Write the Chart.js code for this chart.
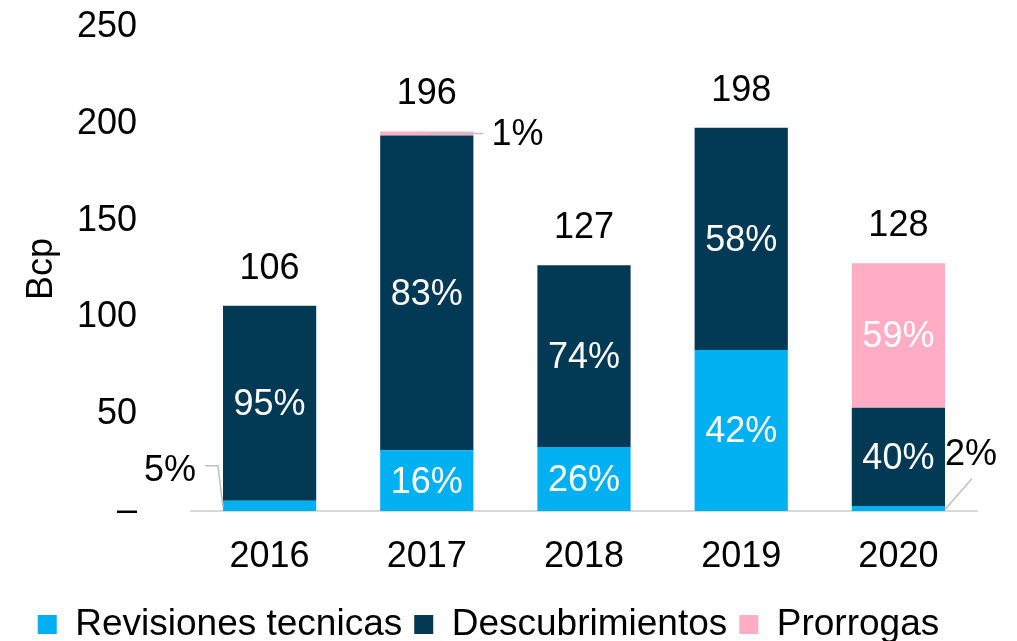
<!DOCTYPE html>
<html>
<head>
<meta charset="utf-8">
<script src="https://cdn.jsdelivr.net/npm/chart.js@4"></script>
<style>
  html, body { margin: 0; padding: 0; background: #fff; }
  #wrap { width: 1017px; height: 641px; }
</style>
</head>
<body>
<div id="wrap"><canvas id="myChart" width="1017" height="641"></canvas></div>
<script>
// datos (Bcp)
const years = ['2016', '2017', '2018', '2019', '2020'];
const revisiones = [5.3, 31.4, 33.0, 83.2, 2.6];
const descubrimientos = [100.7, 162.6, 94.0, 114.8, 50.7];
const prorrogas = [0, 2.0, 0, 0, 74.7];
const totals = [106, 196, 127, 198, 128];

const pctRevisiones = ['5%', '16%', '26%', '42%', '2%'];
const pctDescubrimientos = ['95%', '83%', '74%', '58%', '40%'];
const pctProrrogas = ['', '1%', '', '', '59%'];

const yTicks = [0, 50, 100, 150, 200, 250];

const FONT = "'Liberation Sans', Arial, sans-serif";

// etiquetas dentro de las barras, totales y las pequeñas con linea
const labelsPlugin = {
    id: 'labels',
    afterDatasetsDraw(chart) {
        const ctx = chart.ctx;
        const pcts = [pctRevisiones, pctDescubrimientos, pctProrrogas];
        ctx.save();
        ctx.font = '36px ' + FONT;
        ctx.textAlign = 'center';
        ctx.textBaseline = 'middle';

        chart.data.datasets.forEach(function (ds, i) {
            const meta = chart.getDatasetMeta(i);
            meta.data.forEach(function (bar, j) {
                const txt = pcts[i][j];
                if (!txt) return;
                const h = bar.base - bar.y;
                if (h > 40) {
                    ctx.fillStyle = '#fff';
                    ctx.fillText(txt, bar.x, (bar.y + bar.base) / 2 + 2);
                    return;
                }
                // segmento pequeño -> linea guia
                const left = bar.x - bar.width / 2;
                const right = bar.x + bar.width / 2;
                const midY = (bar.y + bar.base) / 2;
                ctx.strokeStyle = '#BFBFBF';
                ctx.lineWidth = 1.5;
                ctx.fillStyle = '#000';
                ctx.beginPath();
                if (i === 0 && j === 0) {
                    ctx.moveTo(left - 18, midY - 40);
                    ctx.lineTo(left - 5, midY - 40);
                    ctx.lineTo(left, midY + 1);
                    ctx.stroke();
                    ctx.fillText(txt, left - 53, midY - 35);
                } else if (i === 0) {
                    ctx.moveTo(right, midY + 1);
                    ctx.lineTo(right + 27, midY - 30);
                    ctx.stroke();
                    ctx.fillText(txt, right + 26, midY - 53);
                } else {
                    ctx.moveTo(bar.x + 2, midY);
                    ctx.lineTo(right + 10, midY);
                    ctx.stroke();
                    ctx.fillText(txt, right + 44, midY + 2);
                }
            });
        });

        // totales arriba
        const y = chart.scales.y;
        const x = chart.scales.x;
        ctx.fillStyle = '#000';
        totals.forEach(function (t, j) {
            ctx.fillText(String(t), x.getPixelForValue(j), y.getPixelForValue(t) - 37);
        });
        ctx.restore();
    }
};

new Chart(document.getElementById('myChart'), {
    type: 'bar',
    data: {
        labels: years,
        datasets: [
            { label: 'Revisiones tecnicas', data: revisiones, backgroundColor: '#00B0F0' },
            { label: 'Descubrimientos', data: descubrimientos, backgroundColor: '#023A55' },
            { label: 'Prorrogas', data: prorrogas, backgroundColor: '#FFADC4' }
        ]
    },
    options: {
        responsive: false,
        animation: false,
        devicePixelRatio: 1,
        barPercentage: 0.593,
        categoryPercentage: 1,
        layout: { padding: { top: 27, right: 40, left: 0, bottom: -12 } },
        plugins: {
            legend: {
                position: 'bottom',
                labels: {
                    color: '#000',
                    font: { family: FONT, size: 37 },
                    boxWidth: 19,
                    boxHeight: 19,
                    padding: 12
                }
            },
            tooltip: { enabled: false },
            title: { display: false }
        },
        scales: {
            x: {
                stacked: true,
                afterFit: function (s) { s.height = 83; },
                grid: { display: false, drawTicks: false },
                border: { color: '#D9D9D9', width: 2 },
                ticks: {
                    color: '#000',
                    font: { family: FONT, size: 36 },
                    padding: 24
                }
            },
            y: {
                stacked: true,
                min: 0,
                max: 250,
                afterFit: function (s) {
                    s.width = 191;
                    s.paddingTop = 0;
                    s.paddingBottom = 0;
                },
                afterBuildTicks: function (s) {
                    s.ticks = yTicks.map(function (v) { return { value: v }; });
                },
                grid: { display: false, drawTicks: false },
                border: { display: false },
                ticks: {
                    color: '#000',
                    font: { family: FONT, size: 36 },
                    padding: 54,
                    callback: function (v) { return v === 0 ? '–' : v; }
                },
                title: {
                    display: true,
                    text: 'Bcp',
                    color: '#000',
                    font: { family: FONT, size: 36 },
                    padding: { top: 20, bottom: 0 }
                }
            }
        }
    },
    plugins: [labelsPlugin]
});
</script>
</body>
</html>
